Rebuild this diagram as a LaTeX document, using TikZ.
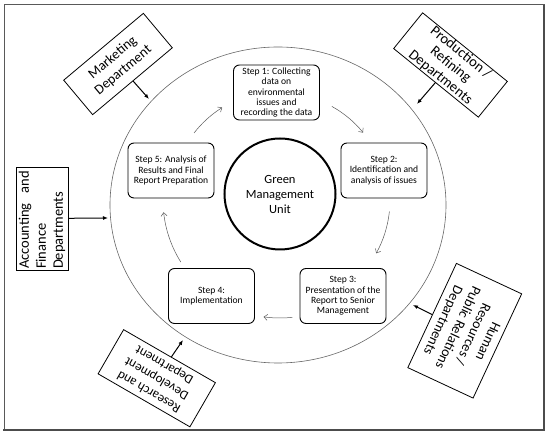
\documentclass[tikz,border=0pt]{standalone}
\usepackage{fontspec}
\setmainfont{Carlito}
\usetikzlibrary{arrows.meta}
\begin{document}
\begin{tikzpicture}[x=1pt,y=1pt,
  stepbox/.style={draw, line width=0.9pt, rounded corners=6pt, minimum width=86pt, minimum height=55pt, align=center, font=\fontsize{9.6}{10.4}\selectfont, inner sep=1pt},
  deptbox/.style={draw, line width=0.8pt, align=center, font=\fontsize{14}{16.5}\selectfont, inner sep=0pt},
  cyc/.style={draw=black!65, line width=0.5pt, -{Straight Barb[length=3.5pt,width=6pt]}},
  feed/.style={line width=1pt, -{Latex[length=5pt,width=4pt]}}]
\useasboundingbox (0,0) rectangle (550,436);
% frame
\draw[black!65, line width=1pt] (4,6) rectangle (544,431);
\draw[black!70, line width=2.5pt] (3,6) -- (545,6);
\draw[black!70, line width=1.4pt] (544,6) -- (544,431);
% outer ring
\coordinate (oc) at (278,231);
\draw[black!60, line width=0.6pt] (oc) ellipse [x radius=168pt, y radius=158pt];
% centre
\node[draw, circle, line width=2pt, minimum size=111pt, align=center, font=\fontsize{12.5}{15}\selectfont] (gmu) at (280,242) {Green\\Management\\Unit};
% steps
\node[stepbox] (s1) at (276.5,343.5) {Step 1: Collecting\\data on\\environmental\\issues and\\recording the data};
\node[stepbox] (s2) at (384,265.5) {Step 2:\\Identification and\\analysis of issues};
\node[stepbox] (s3) at (343,140) {Step 3:\\Presentation of the\\Report to Senior\\Management};
\node[stepbox] (s4) at (211.5,140) {Step 4:\\Implementation};
\node[stepbox] (s5) at (171,265.5) {Step 5: Analysis of\\Results and Final\\Report Preparation};
% cycle arrows
\coordinate (ac) at (280,236);
\draw[cyc] ([shift={(142:109pt)}]ac) arc[start angle=142, end angle=122, radius=109pt];
\draw[cyc] ([shift={(61:107pt)}]ac) arc[start angle=61, end angle=39, radius=107pt];
\draw[cyc] ([shift={(-6:110pt)}]ac) arc[start angle=-6, end angle=-29, radius=110pt];
\draw[cyc] ([shift={(-84:118pt)}]ac) arc[start angle=-84, end angle=-98, radius=118pt];
\draw[cyc] ([shift={(-148:117pt)}]ac) arc[start angle=-148, end angle=-174, radius=117pt];
% departments
\node[deptbox, minimum width=104pt, minimum height=45pt, rotate=40] (mk) at (118,372) {Marketing\\Department};
\node[deptbox, minimum width=109pt, minimum height=46pt, rotate=-39, font=\fontsize{14.5}{16}\selectfont] (pr) at (450.5,371) {Production /\\Refining\\Departments};
\node[deptbox, minimum width=103pt, minimum height=52pt, rotate=90, align=left, text width=101pt, font=\fontsize{14.5}{17}\selectfont] (ac2) at (42,217.5) {Accounting\ \ and\\Finance\\Departments};
\node[deptbox, minimum width=115pt, minimum height=72pt, rotate=-115, font=\fontsize{14}{16.5}\selectfont] (hr) at (464.75,105.25) {Human\\Resources /\\Public Relations\\Departments};
\node[deptbox, minimum width=106pt, minimum height=51pt, rotate=150, font=\fontsize{13}{15.5}\selectfont] (rd) at (156.75,57.75) {Research and\\Development\\Department};
\coordinate (mkE) at (149,337);
\coordinate (prE) at (417,332);
\coordinate (acE) at (108,218);
\coordinate (hrE) at (413,131);
\coordinate (rdE) at (183,96);
\draw[feed] (mk) -- (mkE);
\draw[feed] (pr) -- (prE);
\draw[feed] (ac2) -- (acE);
\draw[feed] (hr) -- (hrE);
\draw[feed] (rd) -- (rdE);
\end{tikzpicture}
\end{document}
